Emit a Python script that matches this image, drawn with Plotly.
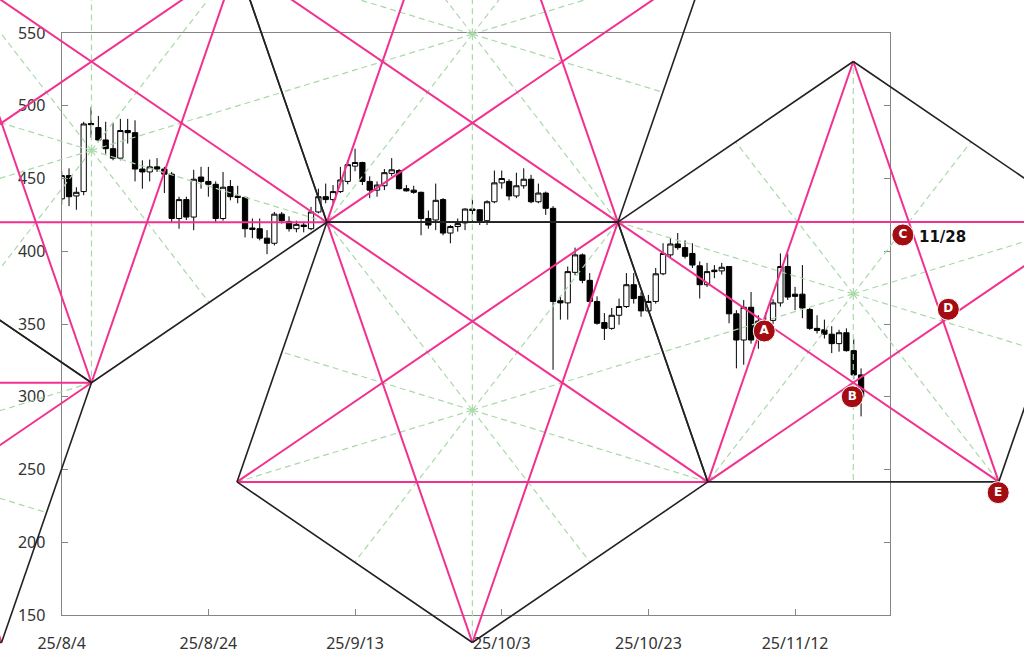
import numpy as np
import pandas as pd
import plotly.graph_objects as go

# daily candles, 2025/8/4 - 2025/11/21
dates = pd.date_range("2025-08-04", "2025-11-21", freq="D")
opens = [436, 452, 438, 441, 487.8, 485, 476.5, 470.5, 464, 483,
         481.5, 456.5, 454.5, 458, 456.5, 453, 422.5, 435.5, 423.5, 451,
         448, 446, 422.5, 444.5, 438, 437, 416, 415.5, 409, 405.5,
         425.5, 420.5, 415.5, 418, 415.5, 427, 437.5, 435.5, 441, 448,
         458.5, 461, 448, 442, 445, 453.5, 455.5, 443, 442, 440.5,
         422.5, 421.5, 435.5, 412.5, 417, 419.5, 429, 428.5, 421, 434,
         447, 448, 438, 445, 449.5, 434, 440, 429.5, 366, 364.5,
         385.5, 397.5, 380, 365.5, 351, 347, 356, 362, 377, 369,
         359, 365.5, 384.5, 397.5, 405, 402.5, 398.5, 390, 377, 387,
         386.5, 389.5, 357, 339, 361.5, 341, 352, 352.5, 364.5, 389.5,
         370.5, 370.5, 360, 347, 346, 343, 336.5, 344, 331.7, 315]
highs = [455, 457, 444, 489, 499, 493, 489, 488, 491, 491,
         490, 462.5, 463, 464, 458, 454.5, 437.5, 437.5, 456, 458,
         458, 448, 454.5, 449, 445, 437.5, 422.5, 422.5, 414.5, 427,
         427, 424, 421, 420, 430.5, 443, 446.5, 445.5, 458, 462.5,
         470.5, 461.5, 451.5, 448, 456.5, 464, 456.5, 445.5, 445, 441,
         428, 446.5, 436.5, 418, 422.5, 429.5, 436.5, 429, 435, 455.5,
         455.5, 449.5, 454, 457, 452.5, 446.5, 441, 431, 369, 389.5,
         402.5, 398.5, 385, 369, 357.5, 361, 367.5, 385, 385, 372,
         370, 388.5, 405.5, 409, 412.5, 407.5, 405.5, 393, 392, 390.5,
         392, 389.5, 359.5, 366.5, 372, 356, 358, 367, 398.5, 398.5,
         375.5, 390.5, 361, 356, 353, 348.5, 346, 347, 340, 319.5]
lows = [432, 431, 428.5, 438.5, 478, 475, 467, 462.5, 462.5, 474,
        448, 443, 448, 454.5, 440, 420, 415.5, 421.5, 414.5, 443,
        437.5, 420, 421, 435, 433, 409.5, 409, 407.5, 398, 404,
        419, 413.5, 413, 413, 414.5, 426, 433, 433, 440, 446,
        455, 445.5, 436.5, 437.5, 442, 451.5, 442.5, 441, 439.5, 411,
        415.5, 414.5, 411, 405.5, 413.5, 414.5, 420.5, 418, 418, 433,
        443, 435, 436.5, 443, 433, 433, 425, 318.5, 353, 353,
        383.5, 378, 362, 349.5, 339, 346, 349.5, 361, 364, 355,
        358, 364, 383.5, 396, 401, 395, 388.5, 367.5, 375.5, 381.5,
        384, 350.5, 319.5, 322, 336.5, 333, 343, 350, 362, 366.5,
        359.5, 354, 346, 343.5, 340, 330, 331, 331, 312, 286.5]
closes = [452, 437.5, 440.5, 487.5, 487, 476.5, 470.5, 464, 483, 481.5,
          456.5, 454.5, 458, 456.5, 453, 422.5, 435.5, 423.5, 449.5, 448,
          446, 422.5, 444, 437.5, 437, 415.5, 415, 409, 405.5, 425.5,
          421, 415.5, 418.5, 417, 427, 437.5, 435.5, 441, 449, 459.5,
          461, 448, 442, 445.5, 454, 456, 443, 441.5, 440.5, 422.5,
          418, 435, 412.5, 417, 419, 429, 428, 421, 434, 447,
          450, 438, 445, 449.5, 434, 440, 429.5, 365.5, 364.5, 386,
          397.5, 380, 365.5, 350.5, 347, 356, 362, 377, 367.5, 359,
          365.5, 384.5, 398.5, 405, 402.5, 396.5, 390.5, 377, 386, 386,
          389, 357, 339, 361.5, 339, 352, 348, 364.5, 389.5, 368.5,
          369, 361, 347, 345.5, 343, 336.5, 344, 331.7, 315, 300]

# pentagon / pentagram construction (x = days after 2025/8/4, y = price)
pent_cx = [-28.04, 4.06, 56.0, 56.0, 107.94]
pent_cy = [260.3, 469.3, 549.2, 290.8, 370.7]
pent_up = [True, False, True, False, True]
rad_days = 33.75
rad_price = 159.7

# labelled points
mark_lbl = ["A", "B", "C", "D", "E"]
mark_day = [95.8, 107.8, 114.7, 120.9, 127.7]
mark_price = [345.2, 300.0, 411.2, 360.1, 234.1]
c_note = "11/28"

# axes
x_start, x_end = "2025-08-04", "2025-11-25"
y_lo, y_hi = 150, 550
X_DOM = [61.7 / 1024, 890.4 / 1024]
Y_DOM = [45 / 660, 627 / 660]

span_days = (pd.Timestamp(x_end) - pd.Timestamp(x_start)).days
xw = X_DOM[1] - X_DOM[0]
x2_range = [-X_DOM[0] * span_days / xw, span_days + (1 - X_DOM[1]) * span_days / xw]
yw = Y_DOM[1] - Y_DOM[0]
y2_range = [y_lo - Y_DOM[0] * (y_hi - y_lo) / yw, y_hi + (1 - Y_DOM[1]) * (y_hi - y_lo) / yw]

edge_x, edge_y, diag_x, diag_y, ray_x, ray_y = [], [], [], [], [], []
for cx, cy, up in zip(pent_cx, pent_cy, pent_up):
    ang = np.radians((90 if up else 270) + 72 * np.arange(5))
    vx = cx + rad_days * np.cos(ang)
    vy = cy + rad_price * np.sin(ang)
    for i in range(5):
        j, k = (i + 1) % 5, (i + 2) % 5
        edge_x += [vx[i], vx[j], None]
        edge_y += [vy[i], vy[j], None]
        diag_x += [vx[i], vx[k], None]
        diag_y += [vy[i], vy[k], None]
        ray_x += [cx, vx[i], None, cx, (vx[i] + vx[j]) / 2, None]
        ray_y += [cy, vy[i], None, cy, (vy[i] + vy[j]) / 2, None]

fig = go.Figure()
fig.add_trace(go.Candlestick(
    x=dates, open=opens, high=highs, low=lows, close=closes,
    increasing=dict(line=dict(color="black", width=1), fillcolor="white"),
    decreasing=dict(line=dict(color="black", width=1), fillcolor="black"),
    whiskerwidth=0, showlegend=False, hoverinfo="skip",
    xaxis="x", yaxis="y"))

fig.add_trace(go.Scatter(x=ray_x, y=ray_y, mode="lines", xaxis="x2", yaxis="y2",
                         line=dict(color="#a9d9a9", width=1.2, dash="6px,4px"),
                         showlegend=False, hoverinfo="skip"))
fig.add_trace(go.Scatter(x=diag_x, y=diag_y, mode="lines", xaxis="x2", yaxis="y2",
                         line=dict(color="#f2308f", width=2),
                         showlegend=False, hoverinfo="skip"))
fig.add_trace(go.Scatter(x=edge_x, y=edge_y, mode="lines", xaxis="x2", yaxis="y2",
                         line=dict(color="#222222", width=1.6),
                         showlegend=False, hoverinfo="skip"))
fig.add_trace(go.Scatter(x=mark_day, y=mark_price, mode="markers+text", xaxis="x2", yaxis="y2",
                         text=mark_lbl, textposition="middle center",
                         textfont=dict(family="DejaVu Sans", size=12, color="white", weight="bold"),
                         marker=dict(size=22, color="#a30d12", line=dict(color="white", width=1)),
                         showlegend=False, hoverinfo="skip"))

fig.add_annotation(x=mark_day[2] + 1.9, y=mark_price[2] - 1.5, xref="x2", yref="y2",
                   text="<b>" + c_note + "</b>", showarrow=False, xanchor="left",
                   font=dict(family="DejaVu Sans", size=15, color="#111111"))

axis_style = dict(showline=True, linecolor="#858585", linewidth=1.3, ticks="inside",
                  ticklen=6, tickcolor="#858585", showgrid=False, zeroline=False,
                  automargin=False,
                  tickfont=dict(family="Noto Sans", size=16, color="#333333"))

fig.update_layout(
    width=1024, height=660,
    margin=dict(l=0, r=0, t=0, b=0, pad=0, autoexpand=False),
    paper_bgcolor="white", plot_bgcolor="rgba(0,0,0,0)",
    boxgap=0.1, boxgroupgap=0.2,
    hovermode=False,
    xaxis=dict(type="date", range=[x_start, x_end], domain=X_DOM, anchor="y",
               tick0=x_start, dtick=20 * 86400000, tickformat="%y/%-m/%-d",
               mirror=True, ticklabelstandoff=14,
               rangeslider=dict(visible=False), **axis_style),
    yaxis=dict(range=[y_lo, y_hi], domain=Y_DOM, anchor="x", dtick=50,
               mirror="ticks", ticklabelstandoff=12, **axis_style),
    xaxis2=dict(range=x2_range, domain=[0, 1], anchor="y2", visible=False, automargin=False),
    yaxis2=dict(range=y2_range, domain=[0, 1], anchor="x2", visible=False, automargin=False),
)

# the page must not add its own margin around the 1024x660 figure
fig.write_html("out.html", config={"displayModeBar": False},
               post_script="document.body.style.margin='0';document.body.style.overflow='hidden';")
